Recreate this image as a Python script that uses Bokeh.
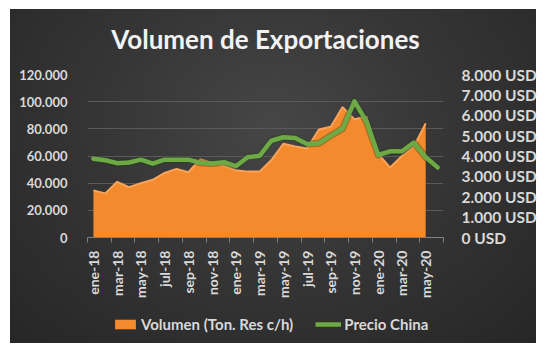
from math import pi
from bokeh.plotting import figure
from bokeh.layouts import column
from bokeh.models import (Range1d, LinearAxis, FixedTicker, Legend, LegendItem,
                          ColumnDataSource, InlineStyleSheet)
from bokeh.embed import file_html
from bokeh.resources import INLINE

months = ["ene", "feb", "mar", "abr", "may", "jun", "jul", "ago", "sep", "oct", "nov", "dic"]
categories = [f"{m}-{y}" for y in ("18", "19", "20") for m in months][:30]

volumen = [34700, 32500, 41000, 37000, 40000, 42500, 47500, 50500, 48000, 57500,
           55000, 53000, 49500, 48500, 48500, 57000, 69000, 67000, 65500, 79500,
           81500, 96000, 87000, 89000, 61500, 51500, 60000, 67000, 84000]
precio = [3870, 3790, 3650, 3680, 3820, 3620, 3820, 3820, 3820, 3670,
          3630, 3700, 3500, 3940, 4010, 4750, 4920, 4880, 4590, 4620,
          5000, 5350, 6680, 5700, 4050, 4230, 4230, 4660, 3940, 3440]

left_ticks = [0, 20000, 40000, 60000, 80000, 100000, 120000]
left_labels = ["0", "20.000", "40.000", "60.000", "80.000", "100.000", "120.000"]
right_ticks = [0, 1000, 2000, 3000, 4000, 5000, 6000, 7000, 8000]
right_labels = ["0 USD", "1.000 USD", "2.000 USD", "3.000 USD", "4.000 USD",
                "5.000 USD", "6.000 USD", "7.000 USD", "8.000 USD"]

FONT = "Lato"
TXT = "#d9d9d9"
ORANGE = "#F38A2D"
ORANGE_EDGE = "#F9A45A"
GREEN = "#6DAA45"

xv = list(range(len(volumen)))
xp = list(range(len(precio)))
src_v = ColumnDataSource(dict(x=xv, y=volumen, y0=[0] * len(volumen)))
src_p = ColumnDataSource(dict(x=xp, y=precio))

p = figure(width=547, height=300, output_backend="svg", toolbar_location=None,
           x_range=Range1d(-0.5, len(categories) - 0.5),
           y_range=Range1d(0, 120000))
p.border_fill_color = None
p.background_fill_color = None
p.outline_line_color = None
p.min_border_left = 87
p.min_border_right = 104
p.min_border_top = 72
p.min_border_bottom = 61

p.extra_y_ranges = {"price": Range1d(0, 8000)}

# title
p.title.text = "Volumen de Exportaciones"
p.title.align = "center"
p.title.text_font = FONT
p.title.text_font_size = "26px"
p.title.text_font_style = "bold"
p.title.text_color = "#f2f2f2"
p.title.standoff = 40

# area
p.varea(x="x", y1="y0", y2="y", source=src_v, fill_color=ORANGE)
p.line(x="x", y="y", source=src_v, line_color=ORANGE_EDGE, line_width=2)

# price line
p.line(x="x", y="y", source=src_p, y_range_name="price", line_color="#1e3a14",
       line_alpha=0.35, line_width=7, line_join="round")
p.line(x="x", y="y", source=src_p, y_range_name="price", line_color=GREEN,
       line_width=4.5, line_join="round", line_cap="round")

# grid
p.xgrid.visible = False
p.ygrid.grid_line_color = "#5a5a5a"
p.ygrid.grid_line_width = 1
p.ygrid.ticker = FixedTicker(ticks=left_ticks)

# left axis
ya = p.yaxis[0]
ya.ticker = FixedTicker(ticks=left_ticks)
ya.major_label_overrides = dict(zip(left_ticks, left_labels))
ya.axis_line_color = None
ya.major_tick_line_color = None
ya.minor_tick_line_color = None
ya.major_label_standoff = 14
ya.major_label_text_font = FONT
ya.major_label_text_font_style = "bold"
ya.major_label_text_font_size = "13px"
ya.major_label_text_color = TXT

# right axis
ra = LinearAxis(y_range_name="price", ticker=FixedTicker(ticks=right_ticks))
ra.major_label_overrides = dict(zip(right_ticks, right_labels))
ra.axis_line_color = None
ra.major_tick_line_color = None
ra.minor_tick_line_color = None
ra.major_label_standoff = 12
ra.major_label_text_font = FONT
ra.major_label_text_font_style = "bold"
ra.major_label_text_font_size = "15.5px"
ra.major_label_text_color = TXT
p.add_layout(ra, "right")

# x axis
xa = p.xaxis[0]
label_idx = list(range(0, len(categories), 2))
xa.ticker = FixedTicker(ticks=label_idx,
                        minor_ticks=[i - 0.5 for i in range(0, len(categories) + 1, 2)])
xa.major_label_overrides = {i: categories[i] for i in label_idx}
xa.major_label_orientation = pi / 2
xa.axis_line_color = "#808080"
xa.major_tick_line_color = None
xa.major_tick_out = 0
xa.minor_tick_line_color = "#808080"
xa.minor_tick_out = 5
xa.minor_tick_in = 0
xa.major_label_standoff = 8
xa.major_label_text_font = FONT
xa.major_label_text_font_style = "bold"
xa.major_label_text_font_size = "14px"
xa.major_label_text_color = TXT

# legend figure (below the chart); its frame is aligned with the chart's frame
lp = figure(width=547, height=51, output_backend="svg", toolbar_location=None,
            x_range=Range1d(0, 1), y_range=Range1d(0, 1),
            x_axis_location=None, y_axis_location=None)
lp.border_fill_color = None
lp.background_fill_color = None
lp.outline_line_color = None
lp.grid.visible = False
lp.min_border_left = 0
lp.min_border_right = 0
lp.min_border_top = 0
lp.min_border_bottom = 0
# legend-only renderers, kept outside the visible range
dummy = ColumnDataSource(dict(x=[5, 6], y=[5, 5], y0=[4, 4]))
la = lp.varea(x="x", y1="y0", y2="y", source=dummy, fill_color=ORANGE)
ll = lp.line(x="x", y="y", source=dummy, line_color=GREEN, line_width=4.5)

legend = Legend(items=[LegendItem(label="Volumen (Ton. Res c/h)", renderers=[la]),
                       LegendItem(label="Precio China", renderers=[ll])],
                orientation="horizontal", location=(25, 18),
                background_fill_alpha=0, border_line_color=None,
                label_text_color=TXT, label_text_font=FONT,
                label_text_font_style="bold", label_text_font_size="15px",
                glyph_width=26, glyph_height=12, spacing=22, label_standoff=3,
                padding=4, margin=0)
lp.add_layout(legend, "center")

layout = column(p, lp, spacing=0)
layout.stylesheets = [InlineStyleSheet(css=(
    ":host { background-color: #ffffff;"
    " background-image: radial-gradient(ellipse at 50% 35%, #464646 0%, #363636 45%, #262626 100%);"
    " background-repeat: no-repeat; background-size: 526px 334px; background-position: 10px 9px; }"))]

open("out.html", "w").write(file_html(layout, INLINE))
